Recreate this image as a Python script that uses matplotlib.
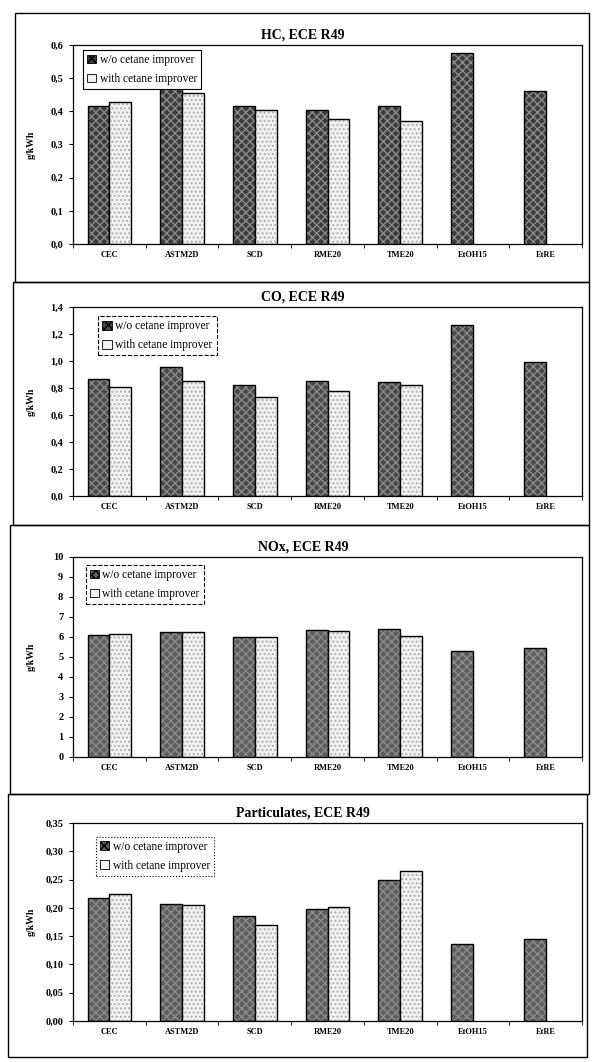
import matplotlib.pyplot as plt
import numpy as np
from matplotlib.patches import Patch, Rectangle

plt.rcParams["font.family"] = ["Liberation Serif", "DejaVu Serif"]

W, H = 600, 1062

categories = ["CEC", "ASTM2D", "SCD", "RME20", "TME20", "EtOH15", "EtRE"]

hc_wo = [0.415, 0.475, 0.415, 0.405, 0.415, 0.575, 0.46]
hc_with = [0.428, 0.455, 0.405, 0.378, 0.370, np.nan, np.nan]

co_wo = [0.87, 0.955, 0.82, 0.85, 0.845, 1.265, 0.99]
co_with = [0.805, 0.855, 0.735, 0.775, 0.82, np.nan, np.nan]

nox_wo = [6.1, 6.25, 6.0, 6.35, 6.4, 5.3, 5.45]
nox_with = [6.15, 6.25, 6.0, 6.3, 6.05, np.nan, np.nan]

pm_wo = [0.217, 0.207, 0.185, 0.198, 0.249, 0.136, 0.145]
pm_with = [0.224, 0.205, 0.170, 0.201, 0.265, np.nan, np.nan]

titles = ["HC, ECE R49", "CO, ECE R49", "NOx, ECE R49", "Particulates, ECE R49"]
series = [(hc_wo, hc_with), (co_wo, co_with), (nox_wo, nox_with), (pm_wo, pm_with)]
ymaxes = [0.6, 1.4, 10, 0.35]
ysteps = [0.1, 0.2, 1, 0.05]
yfmts = ["{:.1f}", "{:.1f}", "{:.0f}", "{:.2f}"]
wo_colors = ["#3c3c3c", "#4a4a4a", "#5e5e5e", "#5e5e5e"]

# pixel layout (top, bottom) of each axes, and panel frames (x0, y0, x1, y1)
axes_px = [(45, 244), (307, 496), (557, 757), (823, 1021)]
frames_px = [(15, 13, 589, 282), (13, 282, 589, 525), (10, 525, 589, 794), (8, 794, 587, 1057)]
legend_ls = ["-", "--", "--", ":"]
legend_pos = [(0.02, 0.975), (0.05, 0.95), (0.025, 0.96), (0.045, 0.93)]
AX_L, AX_R = 73, 582

fig = plt.figure(figsize=(W / 100, H / 100), dpi=100)

for (x0, y0, x1, y1) in frames_px:
    fig.patches.append(Rectangle((x0 / W, 1 - y1 / H), (x1 - x0) / W, (y1 - y0) / H,
                                 transform=fig.transFigure, fill=False,
                                 edgecolor="black", lw=1.0))

x = np.arange(len(categories))
bw = 0.3

for i, ((wo, wi), title) in enumerate(zip(series, titles)):
    top, bot = axes_px[i]
    ax = fig.add_axes([AX_L / W, 1 - bot / H, (AX_R - AX_L) / W, (bot - top) / H])

    ax.bar(x - bw / 2, wo, bw, color=wo_colors[i], edgecolor="#8a8a8a",
           hatch="xxxx", linewidth=0)
    ax.bar(x - bw / 2, wo, bw, fill=False, edgecolor="black", linewidth=1.0)
    ax.bar(x + bw / 2, wi, bw, color="#f2f2f2", edgecolor="#b0b0b0",
           hatch="....", linewidth=0)
    ax.bar(x + bw / 2, wi, bw, fill=False, edgecolor="black", linewidth=1.0)

    ax.set_xlim(-0.5, len(categories) - 0.5)
    ax.set_ylim(0, ymaxes[i])
    yt = np.arange(0, ymaxes[i] + ysteps[i] / 2, ysteps[i])
    ax.set_yticks(yt)
    ax.set_yticklabels([yfmts[i].format(v).replace(".", ",") for v in yt],
                       fontsize=7.5, fontweight="bold")
    ax.set_xticks(x)
    ax.set_xticklabels(categories, fontsize=6, fontweight="bold")
    ax.set_xticks(np.arange(-0.5, len(categories), 1), minor=True)
    ax.tick_params(axis="x", which="major", length=0, pad=5)
    ax.tick_params(axis="x", which="minor", length=3, direction="out")
    ax.tick_params(axis="y", length=3, direction="out", pad=4)
    for s in ax.spines.values():
        s.set_linewidth(0.9)
    ax.set_ylabel("g/kWh", fontsize=7, fontweight="bold")
    ax.yaxis.set_label_coords(-0.073, 0.5)

    handles = [Patch(facecolor=wo_colors[i], edgecolor="black", hatch="xxxx", lw=0.6),
               Patch(facecolor="#f2f2f2", edgecolor="black", lw=0.6)]
    leg = ax.legend(handles, ["w/o cetane improver", "with cetane improver"],
                    loc="upper left", bbox_to_anchor=legend_pos[i],
                    fontsize=8.3, fancybox=False, framealpha=1,
                    edgecolor="black", handlelength=0.8, handleheight=0.8,
                    handletextpad=0.3, labelspacing=0.6, borderpad=0.35,
                    borderaxespad=0)
    leg.get_frame().set_linewidth(0.8)
    leg.get_frame().set_linestyle(legend_ls[i])

    fig.text(0.505, 1 - (top - 10) / H, title, ha="center", va="center",
             fontsize=10, fontweight="bold")

fig.savefig("out.png", dpi=100)
